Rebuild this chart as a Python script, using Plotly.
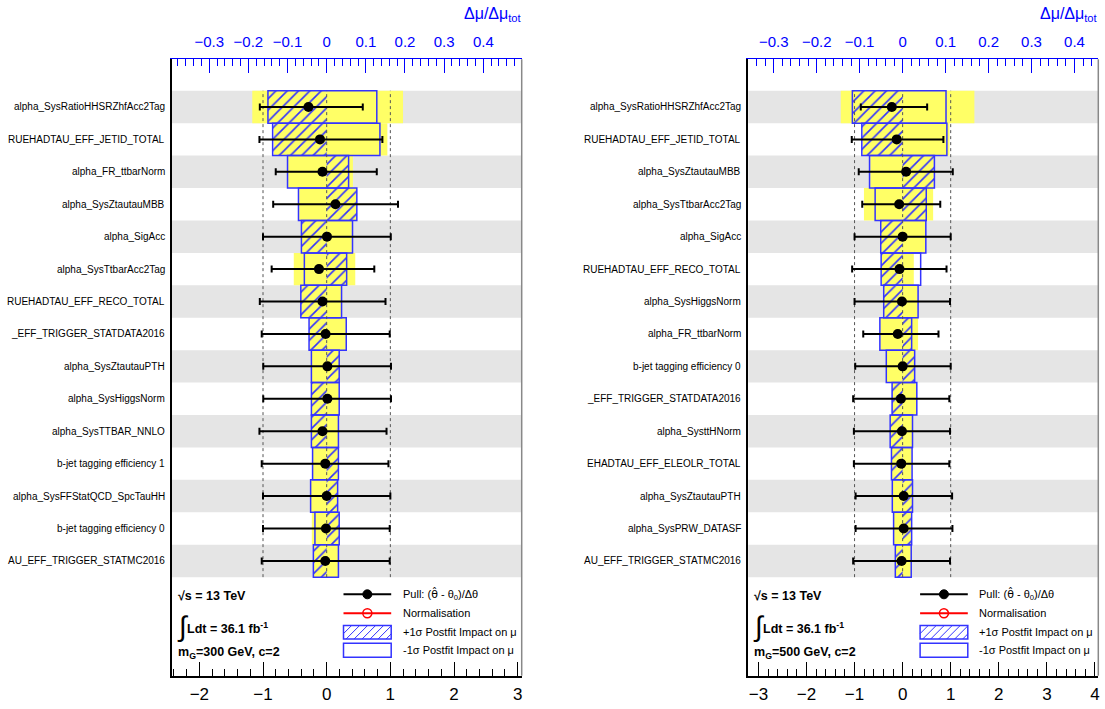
import plotly.graph_objects as go

W, H = 1105, 709
FONT = "Liberation Sans, Arial, Helvetica, sans-serif"
BLUE = "#0000ff"
BOXBLUE = "#3333ff"
YELLOW = "#ffff66"
BAND = "#e5e5e5"

# ---------------- data: m_G = 300 GeV ----------------
labels_300 = [
    "alpha_SysRatioHHSRZhfAcc2Tag",
    "RUEHADTAU_EFF_JETID_TOTAL",
    "alpha_FR_ttbarNorm",
    "alpha_SysZtautauMBB",
    "alpha_SigAcc",
    "alpha_SysTtbarAcc2Tag",
    "RUEHADTAU_EFF_RECO_TOTAL",
    "_EFF_TRIGGER_STATDATA2016",
    "alpha_SysZtautauPTH",
    "alpha_SysHiggsNorm",
    "alpha_SysTTBAR_NNLO",
    "b-jet tagging efficiency 1",
    "alpha_SysFFStatQCD_SpcTauHH",
    "b-jet tagging efficiency 0",
    "AU_EFF_TRIGGER_STATMC2016",
]
postfit_up_300 = [-0.150, -0.138, 0.056, 0.077, -0.0645, 0.051, -0.066, -0.045,
                  0.032, -0.039, -0.039, 0.030, 0.028, 0.032, -0.034]
postfit_down_300 = [0.128, 0.136, -0.100, -0.072, 0.066, -0.057, 0.038, 0.050,
                    -0.039, 0.032, 0.030, -0.036, -0.041, -0.030, 0.030]
prefit_up_300 = [-0.190, -0.135, 0.067, 0.075, -0.063, 0.073, -0.064, -0.044,
                 0.031, -0.038, -0.038, 0.029, 0.027, 0.031, -0.033]
prefit_down_300 = [0.195, 0.155, -0.098, -0.070, 0.064, -0.084, 0.037, 0.049,
                   -0.038, 0.031, 0.029, -0.035, -0.040, -0.038, 0.029]
pull_300 = [-0.286, -0.105, -0.066, 0.138, 0.005, -0.121, -0.066, -0.017,
            0.011, 0.011, -0.066, -0.022, 0.0, -0.011, -0.022]
pull_err_minus_300 = [0.764, 0.951, 0.734, 0.978, 1.005, 0.743, 0.984, 1.003,
                      1.007, 1.007, 0.990, 0.998, 1.000, 0.989, 0.998]
pull_err_plus_300 = [0.853, 0.980, 0.853, 0.982, 1.002, 0.869, 0.990, 1.007,
                     0.999, 0.999, 1.006, 0.992, 1.000, 1.001, 1.012]

# ---------------- data: m_G = 500 GeV ----------------
labels_500 = [
    "alpha_SysRatioHHSRZhfAcc2Tag",
    "RUEHADTAU_EFF_JETID_TOTAL",
    "alpha_SysZtautauMBB",
    "alpha_SysTtbarAcc2Tag",
    "alpha_SigAcc",
    "RUEHADTAU_EFF_RECO_TOTAL",
    "alpha_SysHiggsNorm",
    "alpha_FR_ttbarNorm",
    "b-jet tagging efficiency 0",
    "_EFF_TRIGGER_STATDATA2016",
    "alpha_SysttHNorm",
    "EHADTAU_EFF_ELEOLR_TOTAL",
    "alpha_SysZtautauPTH",
    "alpha_SysPRW_DATASF",
    "AU_EFF_TRIGGER_STATMC2016",
]
postfit_up_500 = [-0.117, -0.095, 0.074, 0.055, -0.051, -0.050, -0.044, 0.021,
                  0.028, -0.0245, -0.029, -0.026, 0.023, 0.021, -0.017]
postfit_down_500 = [0.101, 0.103, -0.077, -0.064, 0.054, 0.042, 0.036, -0.053,
                    -0.038, 0.033, 0.023, 0.022, -0.024, -0.021, 0.020]
prefit_up_500 = [-0.144, -0.093, 0.072, 0.071, -0.050, -0.049, -0.043, 0.036,
                 0.027, -0.024, -0.028, -0.025, 0.022, 0.020, -0.016]
prefit_down_500 = [0.167, 0.109, -0.075, -0.090, 0.053, 0.026, 0.035, -0.052,
                   -0.037, 0.032, 0.022, 0.021, -0.023, -0.020, 0.019]
pull_500 = [-0.225, -0.123, 0.072, -0.072, 0.0, -0.065, -0.014, -0.101,
            0.0, -0.036, -0.014, -0.029, 0.022, 0.022, -0.022]
pull_err_minus_500 = [0.645, 0.935, 0.985, 0.768, 1.000, 0.985, 0.986, 0.718,
                      0.986, 0.993, 1.000, 0.985, 1.000, 1.000, 1.007]
pull_err_plus_500 = [0.735, 0.971, 0.971, 0.855, 1.000, 0.978, 1.000, 0.847,
                     1.000, 1.007, 1.000, 1.000, 1.007, 1.014, 1.008]

notes = ["m<sub>G</sub>=300 GeV, c=2", "m<sub>G</sub>=500 GeV, c=2"]

# ---------------- layout geometry (pixels) ----------------
Y_TOP_PX, Y_BOT_PX = 59.3, 675.7
Y_RANGE = [-2.54, 16.47]
panels = [
    dict(labels=labels_300, up=postfit_up_300, down=postfit_down_300,
         pre_up=prefit_up_300, pre_down=prefit_down_300, pull=pull_300,
         em=pull_err_minus_300, ep=pull_err_plus_300, note=notes[0],
         xt="x", xb="x2", y="y", px=(171.7, 521.7),
         brange=(-2.434, 3.063), ratio=0.1626),
    dict(labels=labels_500, up=postfit_up_500, down=postfit_down_500,
         pre_up=prefit_up_500, pre_down=prefit_down_500, pull=pull_500,
         em=pull_err_minus_500, ep=pull_err_plus_500, note=notes[1],
         xt="x3", xb="x4", y="y2", px=(748.3, 1098.3),
         brange=(-3.21, 4.07), ratio=0.1119),
]


def PX(x):
    return x / W


def PY(y):
    return 1 - y / H


fig = go.Figure()
shapes = []
annotations = []
layout_axes = {}


def axname(a):
    return "xaxis" + a[1:] if a.startswith("x") else "yaxis" + a[1:]


for p in panels:
    n = len(p["labels"])
    rows = [n - i for i in range(n)]
    xt, xb, ya = p["xt"], p["xb"], p["y"]

    # prefit impact (yellow), both sides
    for vals in (p["pre_up"], p["pre_down"]):
        fig.add_trace(go.Bar(orientation="h", y=rows, x=vals, base=0, width=1,
                             marker=dict(color=YELLOW, line=dict(width=0)),
                             xaxis=xt, yaxis=ya, hoverinfo="skip"))
    # +1 sigma postfit impact (hatched)
    fig.add_trace(go.Bar(orientation="h", y=rows, x=p["up"], base=0, width=1,
                         marker=dict(color="rgba(0,0,0,0)", line=dict(width=0),
                                     pattern=dict(shape="/", fgcolor=BOXBLUE,
                                                  bgcolor="rgba(0,0,0,0)",
                                                  size=8, solidity=0.2,
                                                  fillmode="replace")),
                         xaxis=xt, yaxis=ya, hoverinfo="skip"))
    # outline of +/-1 sigma postfit impact box
    span = [d - u for u, d in zip(p["up"], p["down"])]
    fig.add_trace(go.Bar(orientation="h", y=rows, x=span, base=p["up"], width=1,
                         marker=dict(color="rgba(0,0,0,0)",
                                     line=dict(color=BOXBLUE, width=1.5)),
                         xaxis=xt, yaxis=ya, hoverinfo="skip"))
    # dashed reference lines at -1, 0, +1 of the pull axis
    for v in (-1, 0, 1):
        fig.add_trace(go.Scatter(x=[v, v], y=[0.5, n + 0.5], mode="lines",
                                 line=dict(color="#555555", width=1, dash="3px,3px"),
                                 xaxis=xb, yaxis=ya, hoverinfo="skip"))
    # pulls
    fig.add_trace(go.Scatter(x=p["pull"], y=rows, mode="markers",
                             marker=dict(color="black", size=10),
                             error_x=dict(type="data", symmetric=False,
                                          array=p["ep"], arrayminus=p["em"],
                                          color="black", thickness=2, width=3.5),
                             xaxis=xb, yaxis=ya, hoverinfo="skip"))

    # alternating bands
    for i, r in enumerate(rows):
        if i % 2 == 0:
            shapes.append(dict(type="rect", xref=xt + " domain", x0=0, x1=1,
                               yref=ya, y0=r - 0.5, y1=r + 0.5,
                               fillcolor=BAND, line=dict(width=0), layer="below"))
    # right frame edge
    shapes.append(dict(type="line", xref=xt + " domain", x0=1, x1=1,
                       yref=ya + " domain", y0=0, y1=1,
                       line=dict(color="#888888", width=1.5), layer="above"))

    # row labels
    x0p, x1p = p["px"]
    for r, lab in zip(rows, p["labels"]):
        annotations.append(dict(text=lab, xref="paper", x=PX(x0p - 5), xanchor="right",
                                yref=ya, y=r, yanchor="middle", showarrow=False,
                                font=dict(size=10, color="black", family=FONT)))

    # axis title of top axis
    annotations.append(dict(text="Δμ/Δμ<sub>tot</sub>", xref="paper", x=PX(x1p + 2),
                            xanchor="right", yref="paper", y=PY(3), yanchor="top",
                            showarrow=False, font=dict(size=16, color=BLUE, family=FONT)))

    # text block
    fl = x0p
    annotations.append(dict(text="<b>√s = 13 TeV</b>", xref="paper", x=PX(fl + 4),
                            xanchor="left", yref="paper", y=PY(596), yanchor="middle",
                            showarrow=False, font=dict(size=12.5, color="black", family=FONT)))
    annotations.append(dict(text="∫", xref="paper", x=PX(fl + 3), xanchor="left",
                            yref="paper", y=PY(626), yanchor="middle", showarrow=False,
                            font=dict(size=28, color="black", family=FONT)))
    annotations.append(dict(text="<b>Ldt = 36.1 fb<sup>-1</sup></b>", xref="paper",
                            x=PX(fl + 13), xanchor="left", yref="paper", y=PY(628),
                            yanchor="middle", showarrow=False,
                            font=dict(size=12.5, color="black", family=FONT)))
    annotations.append(dict(text="<b>" + p["note"] + "</b>", xref="paper", x=PX(fl + 4),
                            xanchor="left", yref="paper", y=PY(653), yanchor="middle",
                            showarrow=False, font=dict(size=12.5, color="black", family=FONT)))

    # legend
    sx0, sx1, tx = fl + 171.8, fl + 219.5, fl + 228.9
    ly = [594.3, 613.3, 632.3, 650.3]
    cx = (sx0 + sx1) / 2
    shapes.append(dict(type="line", xref="paper", yref="paper", x0=PX(sx0), x1=PX(sx1),
                       y0=PY(ly[0]), y1=PY(ly[0]), line=dict(color="black", width=2)))
    shapes.append(dict(type="circle", xref="paper", yref="paper", xsizemode="pixel",
                       ysizemode="pixel", xanchor=PX(cx), yanchor=PY(ly[0]),
                       x0=-4.5, x1=4.5, y0=-4.5, y1=4.5, fillcolor="black",
                       line=dict(color="black", width=1)))
    shapes.append(dict(type="line", xref="paper", yref="paper", x0=PX(sx0), x1=PX(sx1),
                       y0=PY(ly[1]), y1=PY(ly[1]), line=dict(color="red", width=2)))
    shapes.append(dict(type="circle", xref="paper", yref="paper", xsizemode="pixel",
                       ysizemode="pixel", xanchor=PX(cx), yanchor=PY(ly[1]),
                       x0=-4.5, x1=4.5, y0=-4.5, y1=4.5, fillcolor="rgba(0,0,0,0)",
                       line=dict(color="red", width=1.5)))
    # hatched legend box
    bt, bb = ly[2] - 6.7, ly[2] + 6.7
    segs = []
    c = sx0 + bt
    while c < sx1 + bb:
        lo, hi = max(sx0, c - bb), min(sx1, c - bt)
        if hi > lo:
            segs.append(f"M{PX(lo)},{PY(c - lo)} L{PX(hi)},{PY(c - hi)}")
        c += 8
    shapes.append(dict(type="path", xref="paper", yref="paper", path=" ".join(segs),
                       line=dict(color=BOXBLUE, width=1)))
    shapes.append(dict(type="rect", xref="paper", yref="paper", x0=PX(sx0), x1=PX(sx1),
                       y0=PY(bb), y1=PY(bt), line=dict(color=BOXBLUE, width=1.5)))
    shapes.append(dict(type="rect", xref="paper", yref="paper", x0=PX(sx0), x1=PX(sx1),
                       y0=PY(ly[3] + 7), y1=PY(ly[3] - 7),
                       line=dict(color=BOXBLUE, width=1.5)))
    leg_texts = ["Pull: (<span style='font-family:DejaVu Sans'>θ̂</span> - θ<sub>0</sub>)/Δθ",
                 "Normalisation",
                 "+1σ Postfit Impact on μ", "-1σ Postfit Impact on μ"]
    for t, yy in zip(leg_texts, ly):
        annotations.append(dict(text=t, xref="paper", x=PX(tx), xanchor="left",
                                yref="paper", y=PY(yy), yanchor="middle", showarrow=False,
                                font=dict(size=11, color="black", family=FONT)))

    # axes
    dom = [PX(x0p), PX(x1p)]
    b0, b1 = p["brange"]
    layout_axes[axname(xt)] = dict(
        domain=dom, range=[b0 * p["ratio"], b1 * p["ratio"]], anchor=ya, side="top",
        tickmode="linear", tick0=0, dtick=0.1, ticks="inside", ticklen=14,
        tickwidth=1, tickcolor=BLUE,
        minor=dict(ticks="inside", tick0=0, dtick=0.02, ticklen=7, tickwidth=1,
                   tickcolor=BLUE, showgrid=False),
        showline=True, linecolor=BLUE, linewidth=1, showgrid=False, zeroline=False,
        tickfont=dict(size=15, color=BLUE, family=FONT), ticklabelstandoff=5,
        automargin=False, fixedrange=True)
    layout_axes[axname(xb)] = dict(
        domain=dom, range=[b0, b1], anchor=ya, overlaying=xt, side="bottom",
        tickmode="linear", tick0=0, dtick=1, ticks="inside", ticklen=14,
        tickwidth=1, tickcolor="black",
        minor=dict(ticks="inside", tick0=0, dtick=0.2, ticklen=7, tickwidth=1,
                   tickcolor="black", showgrid=False),
        showline=True, linecolor="black", linewidth=1.5, showgrid=False, zeroline=False,
        tickfont=dict(size=17, color="black", family=FONT), ticklabelstandoff=2,
        automargin=False, fixedrange=True)
    layout_axes[axname(ya)] = dict(
        domain=[PY(Y_BOT_PX), PY(Y_TOP_PX)], range=Y_RANGE, anchor=xt,
        showline=True, linecolor="black", linewidth=1.5, ticks="",
        showticklabels=False, showgrid=False, zeroline=False,
        automargin=False, fixedrange=True)

fig.update_layout(
    width=W, height=H, margin=dict(l=0, r=0, t=0, b=0, autoexpand=False),
    paper_bgcolor="white", plot_bgcolor="white",
    barmode="overlay", showlegend=False, hovermode=False,
    font=dict(family=FONT, color="black"),
    shapes=shapes, annotations=annotations,
    **layout_axes,
)

fig.write_html("out.html", config={"displayModeBar": False},
               post_script="document.body.style.margin='0px';")
